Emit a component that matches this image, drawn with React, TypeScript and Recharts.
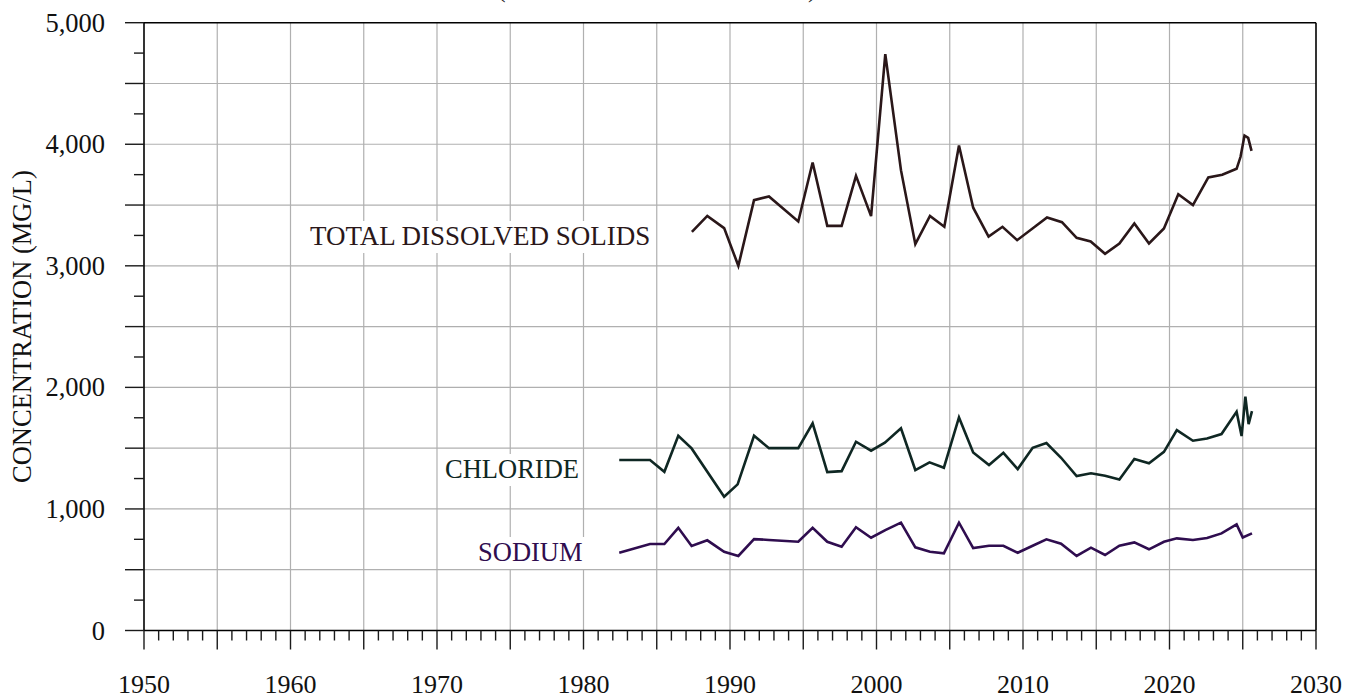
import React from "react";
import { LineChart, Line, XAxis, YAxis, CartesianGrid, ReferenceLine } from "recharts";

const tdsYears = [1987.4, 1988.45, 1989.6, 1990.57, 1991.64, 1992.66, 1994.66, 1995.64, 1996.64, 1997.62, 1998.6, 1999.63, 2000.6, 2001.67, 2002.65, 2003.65, 2004.63, 2005.63, 2006.6, 2007.65, 2008.6, 2009.6, 2011.64, 2012.66, 2013.66, 2014.62, 2015.6, 2016.58, 2017.6, 2018.6, 2019.62, 2020.6, 2021.6, 2022.65, 2023.6, 2024.58, 2024.85, 2025.12, 2025.37, 2025.6];
const tdsValues = [3280, 3411, 3310, 3000, 3540, 3571, 3365, 3850, 3329, 3329, 3740, 3409, 4741, 3787, 3178, 3411, 3321, 3990, 3478, 3240, 3321, 3211, 3398, 3359, 3230, 3200, 3099, 3184, 3349, 3184, 3307, 3589, 3499, 3727, 3749, 3798, 3897, 4072, 4053, 3946];

const chlorideYears = [1982.44, 1984.54, 1985.52, 1986.47, 1987.38, 1989.6, 1990.52, 1991.64, 1992.66, 1994.66, 1995.64, 1996.64, 1997.62, 1998.6, 1999.63, 2000.57, 2001.67, 2002.65, 2003.62, 2004.6, 2005.63, 2006.6, 2007.68, 2008.66, 2009.64, 2010.66, 2011.6, 2012.6, 2013.66, 2014.64, 2015.6, 2016.58, 2017.6, 2018.6, 2019.62, 2020.5, 2021.6, 2022.56, 2023.55, 2024.58, 2024.92, 2025.18, 2025.4, 2025.63];
const chlorideValues = [1402, 1402, 1306, 1602, 1498, 1100, 1202, 1602, 1500, 1500, 1704, 1303, 1311, 1553, 1479, 1545, 1663, 1320, 1383, 1339, 1753, 1465, 1361, 1462, 1328, 1503, 1542, 1421, 1271, 1293, 1273, 1243, 1410, 1375, 1470, 1649, 1561, 1580, 1616, 1799, 1600, 1923, 1698, 1805];

const sodiumYears = [1982.44, 1984.54, 1985.52, 1986.47, 1987.38, 1988.45, 1989.6, 1990.57, 1991.64, 1992.66, 1994.66, 1995.64, 1996.64, 1997.62, 1998.6, 1999.63, 2000.6, 2001.67, 2002.65, 2003.65, 2004.6, 2005.63, 2006.6, 2007.68, 2008.66, 2009.64, 2010.66, 2011.6, 2012.6, 2013.66, 2014.64, 2015.6, 2016.58, 2017.6, 2018.6, 2019.62, 2020.5, 2021.6, 2022.56, 2023.55, 2024.58, 2025.0, 2025.63];
const sodiumValues = [640, 711, 711, 845, 695, 742, 648, 613, 752, 745, 730, 845, 730, 689, 849, 763, 826, 887, 684, 648, 635, 887, 678, 697, 697, 640, 697, 750, 714, 613, 681, 621, 697, 725, 668, 730, 758, 744, 761, 799, 873, 765, 799];

const xTicks = Array.from({ length: 81 }, (_, i) => 1950 + i);
const yTicks = Array.from({ length: 21 }, (_, i) => i * 250);
const gridX = [1955, 1960, 1965, 1970, 1975, 1980, 1985, 1990, 1995, 2000, 2005, 2010, 2015, 2020, 2025];
const gridY = [500, 1000, 1500, 2000, 2500, 3000, 3500, 4000, 4500];

const FONT = '"Liberation Serif", "Times New Roman", Times, serif';
const TDS_COLOR = "#2a1719";
const CL_COLOR = "#0f2723";
const NA_COLOR = "#2f0d4f";

const toData = (xs: number[], vs: number[]) => xs.map((x, i) => ({ x, v: vs[i] }));
const tdsData = toData(tdsYears, tdsValues);
const chlorideData = toData(chlorideYears, chlorideValues);
const sodiumData = toData(sodiumYears, sodiumValues);

const XTick = (props: any) => {
  const { x, y, payload } = props;
  const v = payload.value;
  const major = v % 5 === 0;
  return (
    <g>
      <line x1={x} x2={x} y1={y} y2={y + (major ? 19 : 10)} stroke="#1a1a1a" strokeWidth={1.4} />
      {v % 10 === 0 && (
        <text x={x} y={y + 62.5} textAnchor="middle" fontFamily={FONT} fontSize={26} fill="#111">
          {v}
        </text>
      )}
    </g>
  );
};

const YTick = (props: any) => {
  const { x, y, payload } = props;
  const v = payload.value;
  const major = v % 500 === 0;
  return (
    <g>
      <line x1={x - (major ? 19 : 10)} x2={x} y1={y} y2={y} stroke="#1a1a1a" strokeWidth={1.4} />
      {v % 1000 === 0 && (
        <text x={x - 39} y={y + 9} textAnchor="end" fontFamily={FONT} fontSize={26.5} fill="#111">
          {v.toLocaleString("en-US")}
        </text>
      )}
    </g>
  );
};

const labels = [
  { text: "TOTAL DISSOLVED SOLIDS", x: 310, y: 245, color: TDS_COLOR, w: 338, size: 27 },
  { text: "CHLORIDE", x: 445, y: 478, color: CL_COLOR, w: 133, size: 26.5 },
  { text: "SODIUM", x: 478, y: 561, color: NA_COLOR, w: 104, size: 26.5 },
];

export default function App() {
  return (
    <div style={{ position: "absolute", left: 0, top: 0, width: 1358, height: 698, background: "#fff" }}>
      <LineChart
        width={1358}
        height={698}
        margin={{ top: 22.7, right: 42, left: 0, bottom: 0 }}
        style={{ fontFamily: FONT }}
      >
        <CartesianGrid
          horizontalValues={gridY}
          verticalValues={gridX}
          stroke="#b0b0b0"
          strokeWidth={1.2}
        />
        <XAxis
          dataKey="x"
          type="number"
          domain={[1950, 2030]}
          ticks={xTicks}
          interval={0}
          height={67.5}
          tickSize={0}
          tickMargin={0}
          tickLine={false}
          tick={<XTick />}
          axisLine={{ stroke: "#000", strokeWidth: 1.6 }}
          allowDataOverflow
        />
        <YAxis
          type="number"
          domain={[0, 5000]}
          ticks={yTicks}
          interval={0}
          width={144}
          tickSize={0}
          tickMargin={0}
          tickLine={false}
          tick={<YTick />}
          axisLine={{ stroke: "#000", strokeWidth: 1.6 }}
          allowDataOverflow
        />
        <ReferenceLine y={5000} stroke="#000" strokeWidth={1.6} />
        <ReferenceLine x={2030} stroke="#000" strokeWidth={1.6} />
        <Line data={tdsData} dataKey="v" type="linear" stroke={TDS_COLOR} strokeWidth={2.6} dot={false} isAnimationActive={false} />
        <Line data={chlorideData} dataKey="v" type="linear" stroke={CL_COLOR} strokeWidth={2.6} dot={false} isAnimationActive={false} />
        <Line data={sodiumData} dataKey="v" type="linear" stroke={NA_COLOR} strokeWidth={2.6} dot={false} isAnimationActive={false} />
      </LineChart>
      <svg
        width={1358}
        height={698}
        style={{ position: "absolute", left: 0, top: 0, pointerEvents: "none" }}
      >
        <text x={497} y={-3.5} fontFamily={FONT} fontSize={26} fill="#222">(</text>
        <text x={808} y={-3.5} fontFamily={FONT} fontSize={26} fill="#222">)</text>
        <text
          transform="rotate(-90)"
          x={-326.6}
          y={31}
          textAnchor="middle"
          fontFamily={FONT}
          fontSize={26.5}
          fill="#111"
        >
          CONCENTRATION (MG/L)
        </text>
        {labels.map((l) => (
          <g key={l.text}>
            <rect x={l.x - 4} y={l.y - 24} width={l.w + 8} height={32} fill="#fff" />
            <text x={l.x} y={l.y} fontFamily={FONT} fontSize={l.size} fill={l.color}>
              {l.text}
            </text>
          </g>
        ))}
      </svg>
    </div>
  );
}
